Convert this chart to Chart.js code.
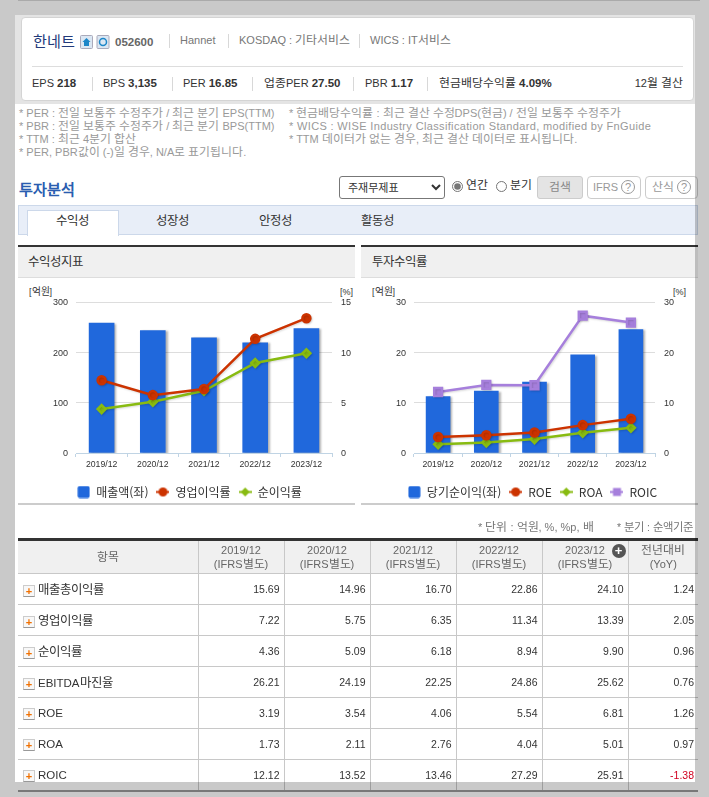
<!DOCTYPE html>
<html lang="ko">
<head>
<meta charset="utf-8">
<title>한네트 투자분석</title>
<script src="https://cdn.jsdelivr.net/npm/chart.js@4"></script>
<style>
@font-face { font-family: "Han"; src: local("Noto Sans CJK KR"), local("Noto Sans CJK KR Regular"); size-adjust: 108%; unicode-range: U+AC00-D7A3; }
html, body { margin: 0; padding: 0; background: #fff; overflow: hidden; }
body { width: 709px; height: 797px; position: relative; font-family: "Han", "Liberation Sans", "Noto Sans CJK KR", sans-serif; font-size: 11px; color: #333; }
.t { position: absolute; white-space: nowrap; line-height: 13px; }
.box { position: absolute; box-sizing: border-box; }
.sep { position: absolute; width: 1px; height: 14px; background: #d8d8d8; }
.note { color: #999; font-size: 11px; }
canvas { position: absolute; }
b { color: #333; font-size: 11.5px; }
#card { left: 21px; top: 17px; width: 673px; height: 84px; background: #fff; border: 1px solid #d4d4d4; border-radius: 4px; }
#tableWrap { position: absolute; left: 18px; top: 538px; width: 680px; height: 254px; overflow: hidden; }
table { border-collapse: collapse; table-layout: fixed; width: 680px; border-top: 3px solid #333; }
th { height: 32px; background: #f0f0f0; font-weight: normal; color: #666; line-height: 14px; border-bottom: 1px solid #c8c8c8; border-left: 1px solid #c8c8c8; padding: 0; position: relative; font-size: 11px; }
th:first-child, td:first-child { border-left: 0; }
td { height: 30px; border-bottom: 1px solid #c8c8c8; border-left: 1px solid #c8c8c8; padding: 0 4px 0 0; text-align: right; font-size: 10.5px; color: #333; }
td:first-child { text-align: left; padding-left: 5px; font-size: 11.5px; }
tr:last-child td { border-bottom: 2px solid #999; }
.plus { display: inline-block; width: 10px; height: 10px; line-height: 10px; margin-right: 3px; border: 1px solid #ccc; border-bottom-color: #999; text-align: center; color: #f07000; font-weight: bold; font-size: 11px; background: #f8f8f8; vertical-align: -1px; }
.neg { color: #d00020; }
.more { position: absolute; right: 2px; top: 3px; width: 14px; height: 14px; line-height: 13px; border-radius: 7px; background: #555; color: #fff; font-weight: bold; font-size: 13px; }
.dim { position: absolute; background: rgba(0, 0, 0, 0.21); }
</style>
</head>
<body>
<div class="box" style="left:15px;top:15px;width:680px;height:89px;background:#e4e4e4"></div>
<div class="box" id="card"></div>
<div class="t" style="left:33px;top:34px;font-size:14px;line-height:16px;color:#223a7a">한네트</div>
<svg style="position:absolute;left:80px;top:35px" width="30" height="14">
  <rect x="0.5" y="0.5" width="12" height="13" rx="1" fill="#dbe7f3" stroke="#aab"/>
  <path d="M6.5 3 L10.5 7 H9 V11 H4 V7 H2.500 Z" fill="#1c86c8"/>
  <rect x="17" y="0.5" width="12" height="13" rx="1" fill="#dbe7f3" stroke="#aab"/>
  <circle cx="23" cy="7" r="3.500" fill="none" stroke="#1c86c8" stroke-width="1.500"/>
</svg>
<div class="t" style="left:115px;top:36px;font-weight:bold;color:#666;font-size:11.5px">052600</div>
<div class="sep" style="left:169px;top:34px"></div>
<div class="t" style="left:180px;top:34px;color:#777">Hannet</div>
<div class="sep" style="left:228px;top:34px"></div>
<div class="t" style="left:239px;top:34px;color:#777">KOSDAQ : 기타서비스</div>
<div class="sep" style="left:359px;top:34px"></div>
<div class="t" style="left:370px;top:34px;color:#777">WICS : IT서비스</div>
<div class="box" style="left:32px;top:66px;width:651px;height:1px;background:#ddd"></div>

<div class="t" style="left:32px;top:77px">EPS <b>218</b></div>
<div class="sep" style="left:92px;top:77px"></div>
<div class="t" style="left:103px;top:77px">BPS <b>3,135</b></div>
<div class="sep" style="left:172px;top:77px"></div>
<div class="t" style="left:183px;top:77px">PER <b>16.85</b></div>
<div class="sep" style="left:252px;top:77px"></div>
<div class="t" style="left:264px;top:77px">업종PER <b>27.50</b></div>
<div class="sep" style="left:353px;top:77px"></div>
<div class="t" style="left:365px;top:77px">PBR <b>1.17</b></div>
<div class="sep" style="left:427px;top:77px"></div>
<div class="t" style="left:439px;top:77px">현금배당수익률 <b>4.09%</b></div>
<div class="t" style="right:26px;top:77px">12월 결산</div>

<div class="t note" style="left:19px;top:107px">* PER : 전일 보통주 수정주가 / 최근 분기 EPS(TTM)</div>
<div class="t note" style="left:19px;top:120px">* PBR : 전일 보통주 수정주가 / 최근 분기 BPS(TTM)</div>
<div class="t note" style="left:19px;top:133px">* TTM : 최근 4분기 합산</div>
<div class="t note" style="left:19px;top:146px">* PER, PBR값이 (-)일 경우, N/A로 표기됩니다.</div>
<div class="t note" style="left:289px;top:107px">* 현금배당수익률 : 최근 결산 수정DPS(현금) / 전일 보통주 수정주가</div>
<div class="t note" style="left:289px;top:120px;letter-spacing:0.35px">* WICS : WISE Industry Classification Standard, modified by FnGuide</div>
<div class="t note" style="left:289px;top:133px">* TTM 데이터가 없는 경우, 최근 결산 데이터로 표시됩니다.</div>

<div class="t" style="left:19px;top:182px;font-size:14px;line-height:16px;font-weight:bold;color:#2a5db0">투자분석</div>
<select style="position:absolute;left:339px;top:176px;width:106px;height:23px;font:11px 'Liberation Sans','Noto Sans CJK KR';color:#333;background:#fff;border:1px solid #777;border-radius:3px;padding-left:4px"><option>주재무제표</option></select>
<input type="radio" name="p" checked style="position:absolute;left:452px;top:181px;margin:0;width:11px;height:11px;accent-color:#777">
<div class="t" style="left:466px;top:179px">연간</div>
<input type="radio" name="p" style="position:absolute;left:496px;top:181px;margin:0;width:11px;height:11px">
<div class="t" style="left:510px;top:179px">분기</div>
<div class="box t" style="left:537px;top:176px;width:46px;height:23px;line-height:21px;text-align:center;background:#e4e4e4;border:1px solid #ccc;border-radius:3px;color:#888">검색</div>
<div class="box t" style="left:587px;top:176px;width:54px;height:23px;line-height:21px;text-align:center;border:1px solid #ccc;border-radius:4px;color:#999">IFRS <span style="display:inline-block;width:12px;height:12px;line-height:12px;border:1px solid #999;border-radius:7px">?</span></div>
<div class="box t" style="left:645px;top:176px;width:53px;height:23px;line-height:21px;text-align:center;border:1px solid #ccc;border-radius:4px;color:#999">산식 <span style="display:inline-block;width:12px;height:12px;line-height:12px;border:1px solid #999;border-radius:7px">?</span></div>

<div class="box" style="left:18px;top:205px;width:680px;height:30px;background:#e8eef8;border:1px solid #ccd8ea"></div>
<div class="box" style="left:27px;top:210px;width:92px;height:26px;background:#fff;border:1px solid #ccd8ea;border-bottom:0"></div>
<div class="t" style="left:56px;top:215px;font-size:11.5px">수익성</div>
<div class="t" style="left:156px;top:215px;font-size:11.5px">성장성</div>
<div class="t" style="left:259px;top:215px;font-size:11.5px">안정성</div>
<div class="t" style="left:361px;top:215px;font-size:11.5px">활동성</div>

<div class="box" style="left:18px;top:245px;width:337px;height:33px;background:#f0f0f0;border-top:2px solid #333;border-bottom:1px solid #ddd"></div>
<div class="t" style="left:28px;top:256px;font-size:11.5px">수익성지표</div>
<div class="box" style="left:361px;top:245px;width:337px;height:33px;background:#f0f0f0;border-top:2px solid #333;border-bottom:1px solid #ddd"></div>
<div class="t" style="left:372px;top:256px;font-size:11.5px">투자수익률</div>

<div class="t" style="left:29px;top:286px;font-size:9px">[억원]</div>
<div class="t" style="left:340px;top:286px;font-size:9px">[%]</div>
<div class="t" style="left:372px;top:286px;font-size:9px">[억원]</div>
<div class="t" style="left:673px;top:286px;font-size:9px">[%]</div>

<canvas id="profitChart" style="left:18px;top:280px"></canvas>
<canvas id="returnChart" style="left:361px;top:280px"></canvas>
<div class="box" style="left:18px;top:503px;width:337px;height:2px;background:#ccc"></div>
<div class="box" style="left:361px;top:503px;width:337px;height:2px;background:#ccc"></div>

<div class="t note" style="left:478px;top:521px;color:#777">* 단위 : 억원, %, %p, 배</div>
<div class="t note" style="left:617px;top:521px;color:#777;font-size:10.5px">* 분기 : 순액기준</div>

<div id="tableWrap"></div>

<div class="dim" style="left:0;top:0;width:709px;height:15px"></div>
<div class="dim" style="left:0;top:15px;width:15px;height:767px"></div>
<div class="dim" style="left:695px;top:15px;width:14px;height:767px"></div>
<div class="dim" style="left:0;top:782px;width:709px;height:15px"></div>
<div class="box" style="left:18px;top:0;width:682px;height:1px;background:#aaa"></div>

<script>
const periods = ['2019/12', '2020/12', '2021/12', '2022/12', '2023/12'];

// 수익성지표
const sales = [258, 243, 229, 219, 247];
const operatingMargin = [7.22, 5.75, 6.35, 11.34, 13.39];
const netMargin = [4.36, 5.09, 6.18, 8.94, 9.90];

// 투자수익률
const netIncome = [11.2, 12.3, 14.1, 19.5, 24.5];
const roe = [3.19, 3.54, 4.06, 5.54, 6.81];
const roa = [1.73, 2.11, 2.76, 4.04, 5.01];
const roic = [12.12, 13.52, 13.46, 27.29, 25.91];

// 하단 표
const rowNames = ['매출총이익률', '영업이익률', '순이익률', 'EBITDA마진율', 'ROE', 'ROA', 'ROIC'];
const rowValues = [
    ['15.69', '14.96', '16.70', '22.86', '24.10', '1.24'],
    ['7.22', '5.75', '6.35', '11.34', '13.39', '2.05'],
    ['4.36', '5.09', '6.18', '8.94', '9.90', '0.96'],
    ['26.21', '24.19', '22.25', '24.86', '25.62', '0.76'],
    ['3.19', '3.54', '4.06', '5.54', '6.81', '1.26'],
    ['1.73', '2.11', '2.76', '4.04', '5.01', '0.97'],
    ['12.12', '13.52', '13.46', '27.29', '25.91', '-1.38']
];

const BLUE = '#2068dc';
const RED = '#cc3300';
const GREEN = '#88bb11';
const PURPLE = '#a67fdc';
const FONT = '"Liberation Sans", "Noto Sans CJK KR", sans-serif';
const LEGEND_FONT = '"Liberation Sans Narrow", "Noto Sans CJK KR", sans-serif';

// 표 만들기
let html = '<table><colgroup><col style="width:180px">' + '<col style="width:86px">'.repeat(5) + '<col style="width:70px"></colgroup><tr><th>항목</th>';
periods.forEach(function(p, i) {
    html += '<th>' + p + '<br>(IFRS별도)' + (i === 4 ? '<span class="more">+</span>' : '') + '</th>';
});
html += '<th>전년대비<br>(YoY)</th></tr>';
rowNames.forEach(function(name, r) {
    html += '<tr><td><span class="plus">+</span>' + name + '</td>';
    rowValues[r].forEach(function(v) {
        html += '<td' + (v[0] === '-' ? ' class="neg"' : '') + '>' + v + '</td>';
    });
    html += '</tr>';
});
document.getElementById('tableWrap').innerHTML = html + '</table>';

// 범례 아이콘
function legendIcon(color, shape) {
    const c = document.createElement('canvas');
    c.width = 13;
    c.height = 13;
    const x = c.getContext('2d');
    x.fillStyle = color;
    x.strokeStyle = color;
    if (shape === 'bar') {
        x.beginPath();
        x.roundRect(0.5, 0.5, 12, 12, 2);
        x.fill();
        return c;
    }
    x.lineWidth = 2;
    x.beginPath();
    x.moveTo(0, 6.5);
    x.lineTo(13, 6.5);
    x.stroke();
    x.beginPath();
    if (shape === 'circle') {
        x.arc(6.5, 6.5, 4.5, 0, Math.PI * 2);
    } else if (shape === 'diamond') {
        x.moveTo(6.5, 2);
        x.lineTo(11, 6.5);
        x.lineTo(6.5, 11);
        x.lineTo(2, 6.5);
        x.closePath();
    } else {
        x.rect(2.5, 2.5, 8, 8);
    }
    x.fill();
    return c;
}

// 막대와 선의 그림자
const shadowPlugin = {
    id: 'markShadow',
    beforeDatasetDraw: function(chart, args) {
        const ctx = chart.ctx;
        const isBar = args.meta.type === 'bar';
        ctx.save();
        ctx.shadowColor = isBar ? 'rgba(0,0,0,0.3)' : 'rgba(0,0,0,0.15)';
        ctx.shadowOffsetX = isBar ? 2 : 1;
        ctx.shadowOffsetY = 1;
        ctx.shadowBlur = 2;
    },
    afterDatasetDraw: function(chart) {
        chart.ctx.restore();
    }
};

function lineSet(label, data, color, pointStyle, radius, icon, order) {
    return {
        type: 'line', label: label, data: data, yAxisID: 'y2', order: order,
        borderColor: color, backgroundColor: color, borderWidth: 2.5,
        pointStyle: pointStyle, pointRadius: radius, pointHoverRadius: radius,
        tension: 0, icon: legendIcon(color, icon)
    };
}

function makeChart(id, datasets, leftMax, leftStep, rightMax, rightStep, leftWidth, rightWidth) {
    const canvas = document.getElementById(id);
    new Chart(canvas, {
        data: { labels: periods, datasets: datasets },
        plugins: [shadowPlugin],
        options: {
            responsive: false,
            animation: false,
            layout: { padding: { top: 22 } },
            plugins: {
                tooltip: { enabled: false },
                legend: {
                    position: 'bottom',
                    labels: {
                        usePointStyle: true,
                        pointStyleWidth: 13,
                        padding: 8,
                        color: '#333',
                        font: { family: LEGEND_FONT, size: 12 },
                        generateLabels: function(chart) {
                            return chart.data.datasets.map(function(d, i) {
                                return { text: d.label, pointStyle: d.icon, datasetIndex: i, fontColor: '#333', lineWidth: 0, strokeStyle: 'transparent' };
                            });
                        }
                    }
                }
            },
            scales: {
                x: {
                    grid: { drawOnChartArea: false, color: '#c0d4e4', tickLength: 4 },
                    border: { color: '#c0d4e4' },
                    ticks: { color: '#333', font: { family: FONT, size: 8.7 }, padding: 2.5, maxRotation: 0 },
                    afterFit: function(s) { s.height = 25; }
                },
                y: {
                    position: 'left', min: 0, max: leftMax,
                    grid: { color: '#dddddd', drawTicks: false },
                    border: { display: false },
                    ticks: { stepSize: leftStep, color: '#333', font: { family: FONT, size: 9 }, padding: 8, labelOffset: 1 },
                    afterFit: function(s) { s.width = leftWidth; }
                },
                y2: {
                    position: 'right', min: 0, max: rightMax,
                    grid: { display: false, drawTicks: false },
                    border: { display: false },
                    ticks: { stepSize: rightStep, color: '#333', font: { family: FONT, size: 9 }, padding: 9, labelOffset: 1 },
                    afterFit: function(s) { s.width = rightWidth; }
                }
            }
        }
    });
}

function sizeCanvas(id, w, h) {
    const c = document.getElementById(id);
    c.width = w;
    c.height = h;
    c.style.width = w + 'px';
    c.style.height = h + 'px';
}

document.addEventListener('DOMContentLoaded', function() {
    sizeCanvas('profitChart', 343, 228);
    sizeCanvas('returnChart', 343, 228);

    makeChart('profitChart', [
        { type: 'bar', label: '매출액(좌)', data: sales, yAxisID: 'y', order: 5, backgroundColor: BLUE, barThickness: 25, icon: legendIcon(BLUE, 'bar') },
        lineSet('영업이익률', operatingMargin, RED, 'circle', 4, 'circle', 1),
        lineSet('순이익률', netMargin, GREEN, 'rectRot', 4, 'diamond', 2)
    ], 300, 100, 15, 5, 58, 29);

    makeChart('returnChart', [
        { type: 'bar', label: '당기순이익(좌)', data: netIncome, yAxisID: 'y', order: 5, backgroundColor: BLUE, barThickness: 24, icon: legendIcon(BLUE, 'bar') },
        lineSet('ROE', roe, RED, 'circle', 4, 'circle', 2),
        lineSet('ROA', roa, GREEN, 'rectRot', 4, 'diamond', 3),
        lineSet('ROIC', roic, PURPLE, 'rect', 5.5, 'square', 1)
    ], 30, 10, 30, 10, 53, 49);
});
</script>
</body>
</html>
